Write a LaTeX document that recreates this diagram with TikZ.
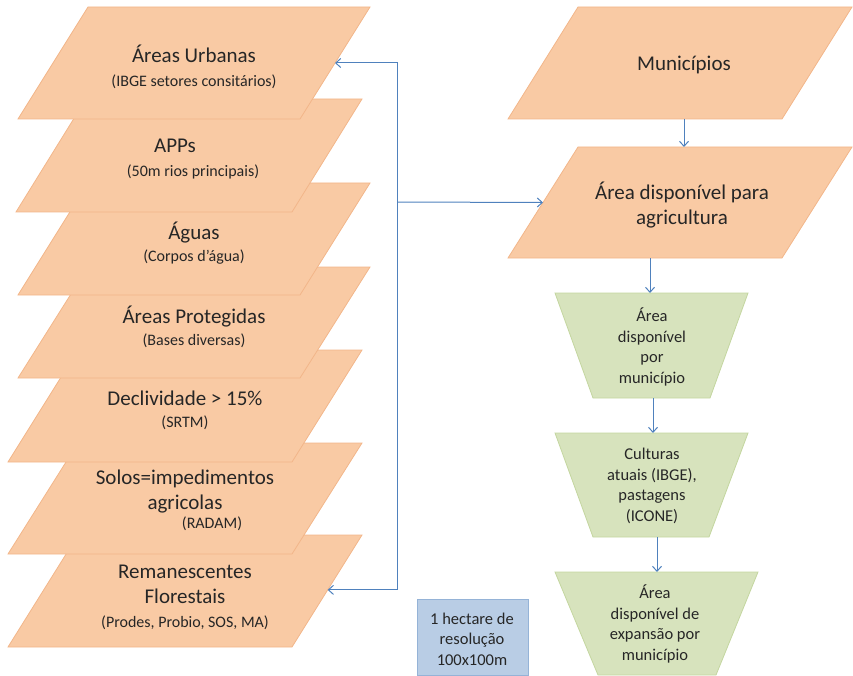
\documentclass[tikz,border=0pt]{standalone}
\usepackage{fontspec}
\setmainfont{Carlito}
\usetikzlibrary{arrows.meta,calc}

\definecolor{peach}{HTML}{F9CAA4}
\definecolor{peachline}{HTML}{F2B68A}
\definecolor{sage}{HTML}{D7E3BD}
\definecolor{sageline}{HTML}{C4D6A0}
\definecolor{sky}{HTML}{B9CDE5}
\definecolor{skyline}{HTML}{95B3D7}
\definecolor{flow}{HTML}{4F81BD}
\definecolor{ink}{HTML}{262626}

% parallelogram: name, top y, bottom y, bottom-left x, top-right x, style
\newcommand{\plate}[6]{%
  \path[#6] (#4+70,#2) coordinate (#1-tl) -- (#5,#2) coordinate (#1-tr)
    -- (#5-70,#3) coordinate (#1-br) -- (#4,#3) coordinate (#1-bl) -- cycle;
  \coordinate (#1) at ($(#1-tl)!0.5!(#1-br)$);
}
% inverted trapezium: name, top y, bottom y, top-left x, top-right x, bottom-left x, bottom-right x
\newcommand{\funnel}[7]{%
  \path[stagebox] (#4,#2) coordinate (#1-tl) -- (#5,#2) coordinate (#1-tr)
    -- (#7,#3) coordinate (#1-br) -- (#6,#3) coordinate (#1-bl) -- cycle;
}
\newcommand{\subfont}{\fontsize{16}{20}\selectfont}

\begin{document}
\begin{tikzpicture}[x=1pt,y=-1pt,
  layerbox/.style={fill=peach,draw=peachline,line width=0.8pt},
  stagebox/.style={fill=sage,draw=sageline,line width=0.8pt},
  notebox/.style={fill=sky,draw=skyline,line width=0.8pt},
  maintext/.style={text=ink,align=center,inner sep=0pt,font=\fontsize{21}{25}\selectfont},
  smalltext/.style={text=ink,align=center,inner sep=0pt,font=\fontsize{16.5}{20.5}\selectfont},
  flowline/.style={draw=flow,line width=1pt,-{Straight Barb[length=5pt,width=9pt]}}]

\useasboundingbox (0,0) rectangle (853,676);

% stacked input layers, drawn from the back to the front
\plate{L7}{535}{647}{8}{362}{layerbox}
\plate{L6}{443}{554}{8}{362}{layerbox}
\plate{L5}{350}{462}{8}{362}{layerbox}
\plate{L4}{267}{378}{18}{370}{layerbox}
\plate{L3}{183}{295}{18}{370}{layerbox}
\plate{L2}{99}{212}{16}{362}{layerbox}
\plate{L1}{7}{119}{18}{370}{layerbox}

\node[maintext] (t1) at ($(L1)+(0,4)$) {Áreas Urbanas\\[-1pt]{\subfont (IBGE setores consitários)}};
\node[maintext] (t2) at ($(L2)+(4,4)$) {APPs\kern36pt\\[-1pt]{\subfont (50m rios principais)}};
\node[maintext] (t3) at ($(L3)+(0,4)$) {Águas\\[-3pt]{\subfont (Corpos d’água)}};
\node[maintext] (t4) at ($(L4)+(0,4)$) {Áreas Protegidas\\[-3pt]{\subfont (Bases diversas)}};
\node[maintext] (t5) at ($(L5)+(0,4)$) {Declividade > 15\%\\[-3pt]{\subfont (SRTM)}};
\node[maintext] (t6) at ($(L6)+(0,2)$) {Solos=impedimentos\\agricolas\\[-6pt]{\subfont\kern54pt(RADAM)}};
\node[maintext] (t7) at ($(L7)+(0,6)$) {Remanescentes\\Florestais\\[-1pt]{\subfont (Prodes, Probio, SOS, MA)}};

% municipal flow
\plate{M}{7}{119}{508}{852}{layerbox}
\plate{A}{147}{258}{508}{852}{layerbox}
\node[maintext] (tm) at ($(M)+(4,2)$) {Municípios};
\node[maintext] (ta) at ($(A)+(2,3)$) {Área disponível para\\agricultura};

\funnel{F1}{293}{398}{555}{748}{593}{710}
\funnel{F2}{433}{537}{555}{748}{593}{709}
\funnel{F3}{572}{675}{555}{758}{598}{716}
\node[smalltext] (f1) at (652,347) {Área\\disponível\\por\\município};
\node[smalltext] (f2) at (652,486) {Culturas\\atuais (IBGE),\\pastagens\\(ICONE)};
\node[smalltext] (f3) at (655,624) {Área\\disponível de\\expansão por\\município};

% resolution note
\draw[notebox] (417,599) rectangle (528,675);
\node[smalltext] (res) at (472,639) {1 hectare de\\resolução\\100x100m};

% connectors
\coordinate (hub) at (397,202);
\coordinate (L1-e) at ($(L1-tr)!0.5!(L1-br)$);
\coordinate (L7-e) at ($(L7-tr)!0.49!(L7-br)$);
\coordinate (A-w) at ($(A-tl)!0.5!(A-bl)$);
\draw[flowline] (hub) |- (L1-e);
\draw[flowline] (hub) |- (L7-e);
\draw[flowline] (hub) -- (A-w);

\coordinate (M-s) at (684,119);
\coordinate (A-n) at (684,147);
\coordinate (A-s) at (650,258);
\coordinate (F1-n) at (650,293);
\coordinate (F1-s) at (653,398);
\coordinate (F2-n) at (653,433);
\coordinate (F2-s) at (657,537);
\coordinate (F3-n) at (657,572);
\draw[flowline] (M-s) -- (A-n);
\draw[flowline] (A-s) -- (F1-n);
\draw[flowline] (F1-s) -- (F2-n);
\draw[flowline] (F2-s) -- (F3-n);
\end{tikzpicture}
\end{document}
